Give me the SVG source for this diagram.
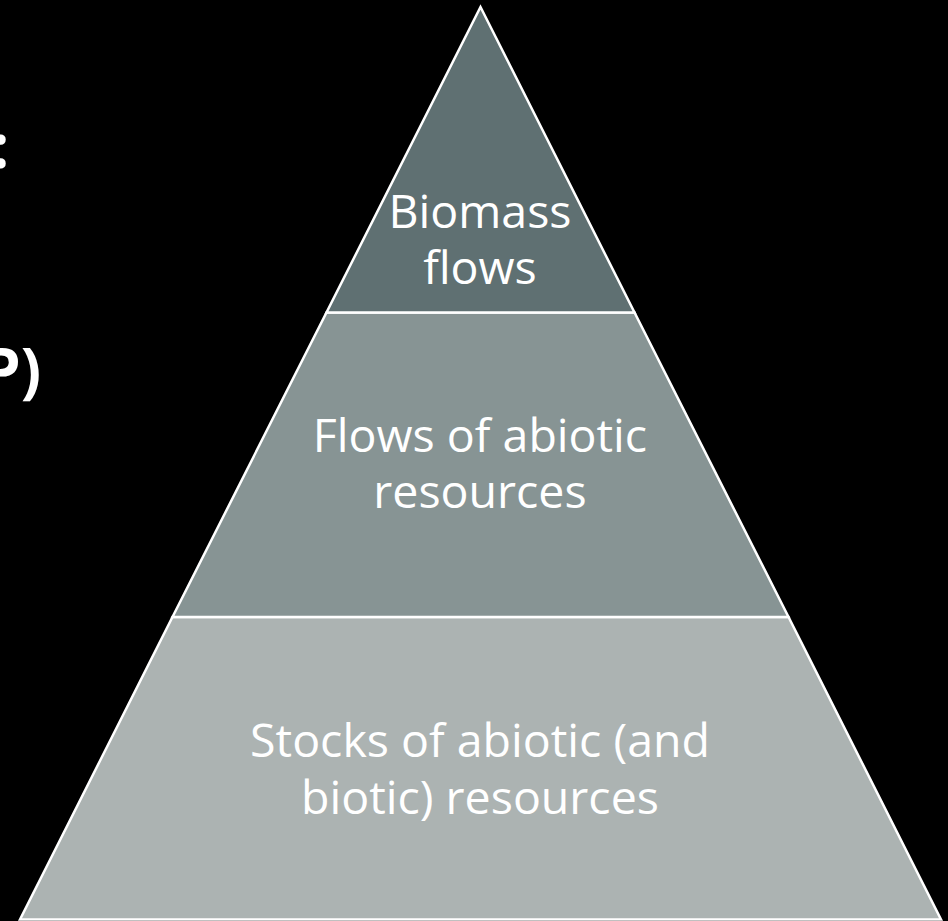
<svg xmlns="http://www.w3.org/2000/svg" width="948" height="921" viewBox="0 0 948 921">
<style>
.lbl{font-family:"Open Sans","Liberation Sans",sans-serif;font-size:46.5px;fill:#ffffff;text-anchor:middle}
.side{font-family:"Open Sans","Liberation Sans",sans-serif;font-weight:bold;font-size:60px;fill:#ffffff;text-anchor:end}
.lay{stroke:#ffffff;stroke-width:2.5;stroke-linejoin:miter}
</style>
<rect x="0" y="0" width="948" height="921" fill="#000000"/>
<g id="side-text">
<text class="side" x="9" y="168">:</text>
<text class="side" x="41" y="392">P)</text>
</g>
<g id="layer-bottom">
<polygon class="lay" points="172.5,617 788.5,617 941,919.5 20,919.5" fill="#acb3b2"/>
<text class="lbl" x="480" y="757">Stocks of abiotic (and</text>
<text class="lbl" x="480" y="814">biotic) resources</text>
</g>
<g id="layer-middle">
<polygon class="lay" points="326.5,312.5 634.5,312.5 788.5,617 172.5,617" fill="#879494"/>
<text class="lbl" x="480" y="452">Flows of abiotic</text>
<text class="lbl" x="480" y="508">resources</text>
</g>
<g id="layer-top">
<polygon class="lay" points="480.5,7 634.5,312.5 326.5,312.5" fill="#5f7072"/>
<text class="lbl" x="480" y="228">Biomass</text>
<text class="lbl" x="480" y="284">flows</text>
</g>
</svg>
